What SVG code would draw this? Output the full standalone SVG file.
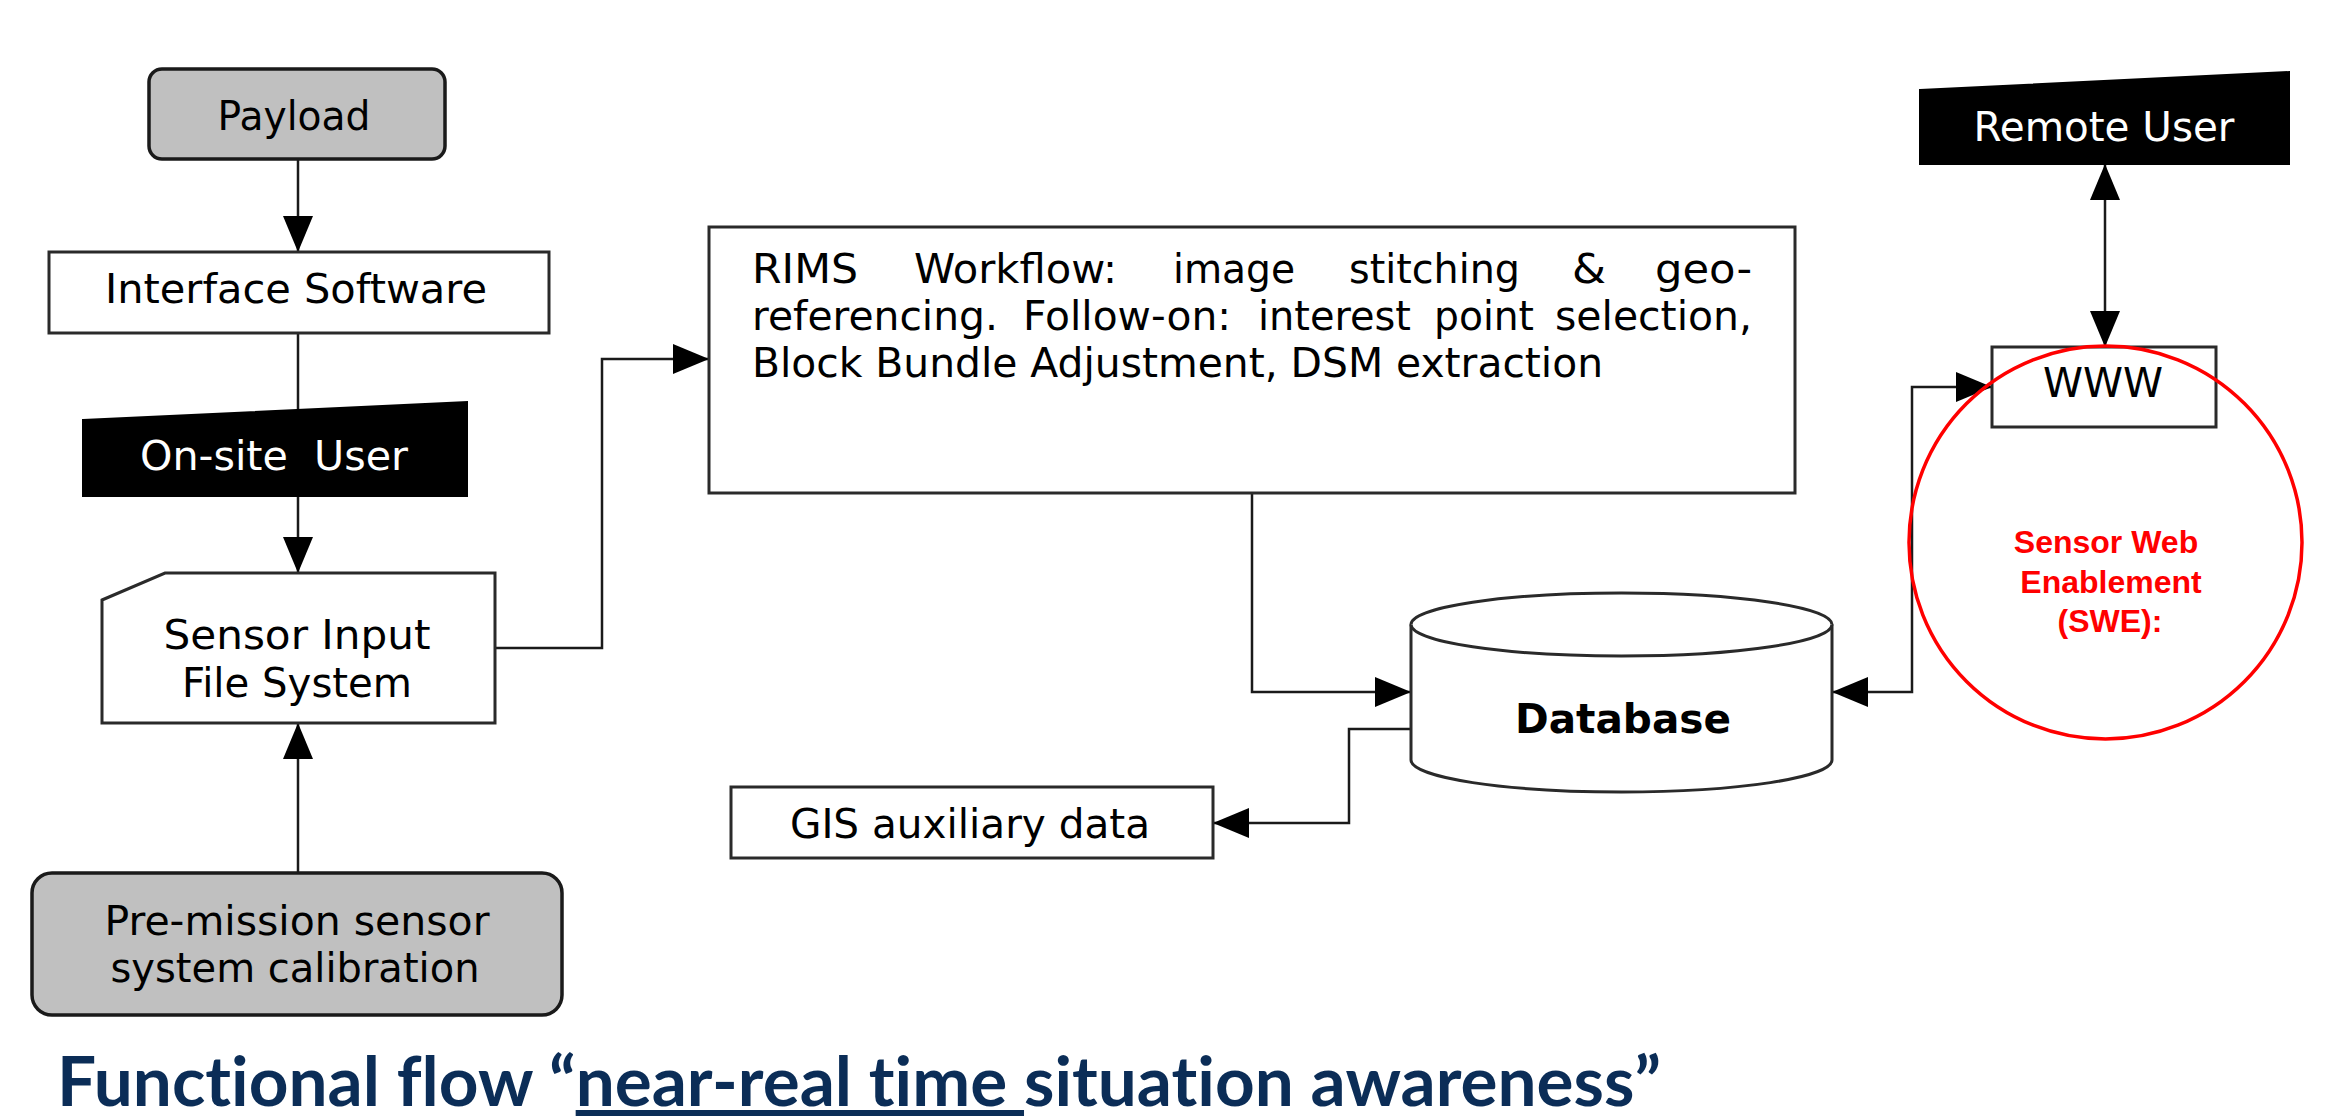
<svg xmlns="http://www.w3.org/2000/svg" width="2335" height="1116" viewBox="0 0 2335 1116">
  <style>
    .box { fill: #ffffff; stroke: #2a2a2a; stroke-width: 3; }
    .term { fill: #c0c0c0; stroke: #1a1a1a; stroke-width: 3.5; }
    .user { fill: #000000; stroke: #000000; stroke-width: 2; }
    .t { font-family: "DejaVu Sans", Verdana, sans-serif; font-size: 40px; fill: #000000; text-anchor: middle; }
    .tw { fill: #ffffff; }
    .tb { font-weight: bold; }
    .rims { font-family: "DejaVu Sans", Verdana, sans-serif; font-size: 40px; fill: #000000; }
    .conn { fill: none; stroke: #1a1a1a; stroke-width: 2.5; }
    .swe { font-family: "Liberation Sans", Arial, sans-serif; font-size: 32px; font-weight: bold; fill: #ff0000; text-anchor: middle; }
    .title { font-family: Lato, "Open Sans", sans-serif; font-size: 68px; font-weight: bold; fill: #0b2d57; font-variant-ligatures: none; }
  </style>
  <defs>
    <marker id="arr" markerUnits="userSpaceOnUse" markerWidth="36" markerHeight="30" refX="36" refY="15" orient="auto-start-reverse" viewBox="0 0 36 30">
      <path d="M0,0 L36,15 L0,30 Z" fill="#000000"/>
    </marker>
  </defs>
  <rect width="2335" height="1116" fill="#ffffff"/>

  <g id="connectors">
    <path class="conn" d="M298,159 V252" marker-end="url(#arr)"/>
    <path class="conn" d="M298,333 V411"/>
    <path class="conn" d="M298,496 V573" marker-end="url(#arr)"/>
    <path class="conn" d="M298,873 V723" marker-end="url(#arr)"/>
    <path class="conn" d="M495,648 H602 V359 H709" marker-end="url(#arr)"/>
    <path class="conn" d="M1252,493 V692 H1411" marker-end="url(#arr)"/>
    <path class="conn" d="M1411,729 H1349 V823 H1213" marker-end="url(#arr)"/>
    <path class="conn" d="M1832,692 H1912 V387 H1992" marker-start="url(#arr)" marker-end="url(#arr)"/>
    <path class="conn" d="M2105,164 V347" marker-start="url(#arr)" marker-end="url(#arr)"/>
  </g>

  <g id="payload">
    <rect class="term" x="149" y="69" width="296" height="90" rx="13"/>
    <text class="t" x="294" y="130" textLength="153" lengthAdjust="spacingAndGlyphs">Payload</text>
  </g>

  <g id="interface-software">
    <rect class="box" x="49" y="252" width="500" height="81"/>
    <text class="t" x="296" y="303" textLength="382" lengthAdjust="spacingAndGlyphs">Interface Software</text>
  </g>

  <g id="onsite-user">
    <polygon class="user" points="83,420 467,402 467,496 83,496"/>
    <text class="t tw" x="274" y="470" textLength="268" lengthAdjust="spacingAndGlyphs" xml:space="preserve">On-site  User</text>
  </g>

  <g id="sensor-input">
    <path class="box" d="M102,600 L165,573 H495 V723 H102 Z"/>
    <text class="t" x="297" y="649" textLength="267" lengthAdjust="spacingAndGlyphs">Sensor Input</text>
    <text class="t" x="297" y="697" textLength="230" lengthAdjust="spacingAndGlyphs">File System</text>
  </g>

  <g id="pre-mission">
    <rect class="term" x="32" y="873" width="530" height="142" rx="20"/>
    <text class="t" x="297" y="935" textLength="385" lengthAdjust="spacingAndGlyphs">Pre-mission sensor</text>
    <text class="t" x="295" y="982" textLength="369" lengthAdjust="spacingAndGlyphs">system calibration</text>
  </g>

  <g id="rims-workflow">
    <rect class="box" x="709" y="227" width="1086" height="266"/>
    <text class="rims" y="283">
      <tspan x="752" textLength="106" lengthAdjust="spacingAndGlyphs">RIMS</tspan>
      <tspan x="914" textLength="203" lengthAdjust="spacingAndGlyphs">Workflow:</tspan>
      <tspan x="1173" textLength="122" lengthAdjust="spacingAndGlyphs">image</tspan>
      <tspan x="1349" textLength="171" lengthAdjust="spacingAndGlyphs">stitching</tspan>
      <tspan x="1572" textLength="34" lengthAdjust="spacingAndGlyphs">&amp;</tspan>
      <tspan x="1655" textLength="97" lengthAdjust="spacingAndGlyphs">geo-</tspan>
    </text>
    <text class="rims" y="330">
      <tspan x="752" textLength="246" lengthAdjust="spacingAndGlyphs">referencing.</tspan>
      <tspan x="1023" textLength="208" lengthAdjust="spacingAndGlyphs">Follow-on:</tspan>
      <tspan x="1258" textLength="153" lengthAdjust="spacingAndGlyphs">interest</tspan>
      <tspan x="1434" textLength="100" lengthAdjust="spacingAndGlyphs">point</tspan>
      <tspan x="1555" textLength="197" lengthAdjust="spacingAndGlyphs">selection,</tspan>
    </text>
    <text class="rims" x="752" y="377" textLength="851" lengthAdjust="spacingAndGlyphs">Block Bundle Adjustment, DSM extraction</text>
  </g>

  <g id="database">
    <path class="box" d="M1411,624.5 V760 A210.5,32 0 0 0 1832,760 V624.5 A210.5,31.5 0 0 0 1411,624.5 Z"/>
    <path class="box" fill="none" d="M1411,624.5 A210.5,31.5 0 0 0 1832,624.5"/>
    <text class="t tb" x="1623" y="733" textLength="216" lengthAdjust="spacingAndGlyphs">Database</text>
  </g>

  <g id="gis-data">
    <rect class="box" x="731" y="787" width="482" height="71"/>
    <text class="t" x="970" y="838" textLength="360" lengthAdjust="spacingAndGlyphs">GIS auxiliary data</text>
  </g>

  <g id="www">
    <rect class="box" x="1992" y="347" width="224" height="80"/>
    <text class="t" x="2103" y="397" textLength="120" lengthAdjust="spacingAndGlyphs">WWW</text>
  </g>

  <g id="remote-user">
    <polygon class="user" points="1920,90 2289,72 2289,164 1920,164"/>
    <text class="t tw" x="2104" y="141" textLength="261" lengthAdjust="spacingAndGlyphs">Remote User</text>
  </g>

  <g id="swe">
    <circle cx="2105.5" cy="542.5" r="196.5" fill="none" stroke="#ff0000" stroke-width="3.5"/>
    <text class="swe" x="2106" y="553">Sensor Web</text>
    <text class="swe" x="2111" y="593">Enablement</text>
    <text class="swe" x="2110" y="632">(SWE):</text>
  </g>

  <g id="title">
    <text class="title" x="57" y="1106" textLength="1604" lengthAdjust="spacingAndGlyphs" xml:space="preserve">Functional flow “<tspan text-decoration="underline">near-real time </tspan>situation awareness”</text>
  </g>
</svg>
